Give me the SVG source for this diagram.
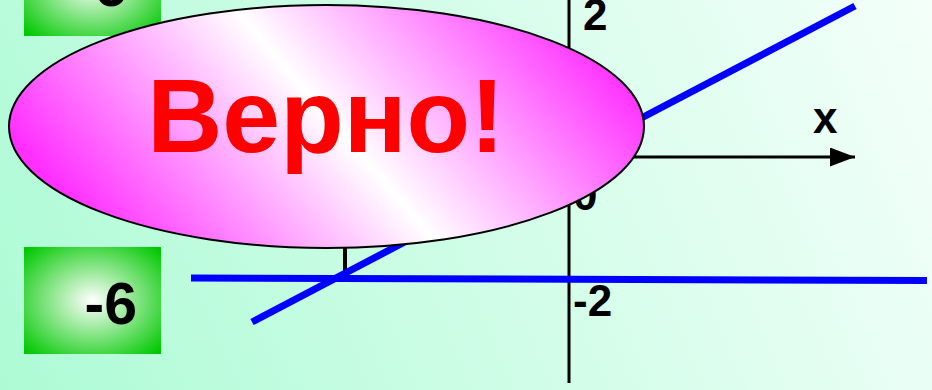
<svg xmlns="http://www.w3.org/2000/svg" width="932" height="390" viewBox="0 0 932 390">
  <defs>
    <linearGradient id="bg" x1="0" y1="390" x2="932" y2="0" gradientUnits="userSpaceOnUse">
      <stop offset="0" stop-color="#adfbd5"/>
      <stop offset="1" stop-color="#f4fffa"/>
    </linearGradient>
    <radialGradient id="greenGrad" cx="0.5" cy="0.5" r="0.68">
      <stop offset="0" stop-color="#ffffff"/>
      <stop offset="1" stop-color="#00c800"/>
    </radialGradient>
    <linearGradient id="ellGrad" x1="146" y1="288" x2="524" y2="-38" gradientUnits="userSpaceOnUse">
      <stop offset="0" stop-color="#ff30ff"/>
      <stop offset="0.5" stop-color="#ffffff"/>
      <stop offset="1" stop-color="#ff30ff"/>
    </linearGradient>
    <marker id="arrow" markerWidth="25" markerHeight="19" refX="25" refY="9.5" orient="auto" markerUnits="userSpaceOnUse">
      <polygon points="0,0 25,9.5 0,19" fill="#000"/>
    </marker>
    <style>
      .box { fill: url(#greenGrad); }
      .boxText { font-family: "Liberation Sans", Arial, sans-serif; font-weight: bold; font-size: 59px; fill: #000; }
      .axis { stroke: #000; stroke-width: 3; fill: none; }
      .axisLabel { font-family: "Liberation Sans", Arial, sans-serif; font-weight: bold; font-size: 44px; fill: #000; }
      .blue { stroke: #0000ff; stroke-width: 7; fill: none; }
      .tick { stroke: #000; stroke-width: 4; }
    </style>
  </defs>

  <rect x="0" y="0" width="932" height="390" fill="url(#bg)"/>

  <g id="box-top">
    <rect class="box" x="24" y="-71" width="137" height="107"/>
    <text class="boxText" x="127" y="6" text-anchor="end">-6</text>
  </g>

  <g id="box-bottom">
    <rect class="box" x="24" y="247" width="137" height="107"/>
    <text class="boxText" x="137" y="324" text-anchor="end">-6</text>
  </g>

  <g id="axes">
    <line class="axis" x1="569" y1="0" x2="569" y2="383"/>
    <line class="axis" x1="300" y1="157" x2="855" y2="157" stroke-width="2.5" marker-end="url(#arrow)"/>
    <text class="axisLabel" x="813" y="133">x</text>
    <text class="axisLabel" x="583" y="30">2</text>
    <text class="axisLabel" x="573" y="210">0</text>
    <text class="axisLabel" x="573" y="316">-2</text>
  </g>

  <g id="connectors">
    <line class="tick" x1="345" y1="240" x2="345" y2="277"/>
    <line class="blue" x1="191" y1="278" x2="927" y2="280.5"/>
    <line class="blue" x1="252" y1="322" x2="855" y2="6"/>
  </g>

  <g id="bubble">
    <ellipse cx="326.5" cy="126.5" rx="317.5" ry="121.5" fill="url(#ellGrad)" stroke="#000" stroke-width="2"/>
    <text x="326" y="152" text-anchor="middle" font-family="'Liberation Sans', Arial, sans-serif" font-weight="bold" font-size="104" fill="#ff0000">Верно!</text>
  </g>
</svg>
